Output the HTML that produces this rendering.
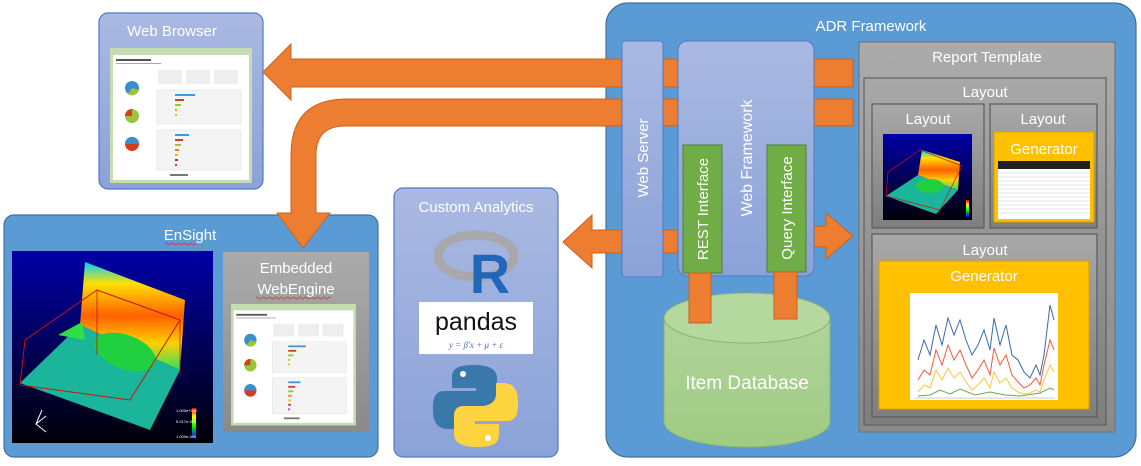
<!DOCTYPE html>
<html><head><meta charset="utf-8"><style>
html,body{margin:0;padding:0;background:#fff;}
svg{display:block;font-family:"Liberation Sans",sans-serif;}
</style></head><body>
<svg width="1141" height="466" viewBox="0 0 1141 466" xmlns="http://www.w3.org/2000/svg">
<defs>
<linearGradient id="lb" x1="0" y1="0" x2="0" y2="1"><stop offset="0" stop-color="#aab9e2"/><stop offset="1" stop-color="#8ba2d8"/></linearGradient>
<linearGradient id="gr" x1="0" y1="0" x2="0" y2="1"><stop offset="0" stop-color="#ababab"/><stop offset="1" stop-color="#8a8a8a"/></linearGradient>
<linearGradient id="gr2" x1="0" y1="0" x2="0" y2="1"><stop offset="0" stop-color="#a8a8a8"/><stop offset="1" stop-color="#7e7e7e"/></linearGradient>
<linearGradient id="ens" x1="0" y1="0" x2="0" y2="1"><stop offset="0" stop-color="#0000a8"/><stop offset="1" stop-color="#000008"/></linearGradient>
<linearGradient id="wall" x1="0" y1="0" x2="0" y2="1"><stop offset="0" stop-color="#00d0ff"/><stop offset=".2" stop-color="#ffe000"/><stop offset=".5" stop-color="#ff6000"/><stop offset=".75" stop-color="#ffd000"/><stop offset="1" stop-color="#30e060"/></linearGradient>
<linearGradient id="cb" x1="0" y1="0" x2="0" y2="1"><stop offset="0" stop-color="#ff0000"/><stop offset=".3" stop-color="#ffff00"/><stop offset=".6" stop-color="#00ff00"/><stop offset="1" stop-color="#0000ff"/></linearGradient>
<linearGradient id="db" x1="0" y1="0" x2="0" y2="1"><stop offset="0" stop-color="#b0d49a"/><stop offset="1" stop-color="#9fcb83"/></linearGradient>
<g id="shot">
<rect x="0" y="0" width="142" height="135" fill="#c5dbb0"/>
<rect x="3" y="7" width="136" height="125" fill="#fff"/>
<rect x="6" y="11" width="35" height="2" fill="#555"/>
<rect x="6" y="15" width="45" height="1" fill="#aaa"/>
<rect x="48" y="22" width="24" height="14" fill="#eee"/><rect x="76" y="22" width="24" height="14" fill="#eee"/><rect x="104" y="22" width="24" height="14" fill="#eee"/>
<circle cx="22" cy="40" r="7" fill="#3a8ed0"/><path d="M22 40 L29 42 A7 7 0 0 1 18 46Z" fill="#9ac43a"/>
<circle cx="22" cy="68" r="7" fill="#9ac43a"/><path d="M22 68 L22 61 A7 7 0 0 0 15 68Z" fill="#d04020"/>
<circle cx="22" cy="96" r="7" fill="#d04020"/><path d="M15 96 A7 7 0 0 1 29 96Z" fill="#3a8ed0"/>
<rect x="47" y="42" width="84" height="34" fill="#f4f4f4" stroke="#ddd" stroke-width=".5"/>
<rect x="65" y="46" width="20" height="2" fill="#3a9ad8"/><rect x="65" y="51" width="9" height="2" fill="#d04020"/><rect x="65" y="56" width="6" height="2" fill="#9ac43a"/><rect x="65" y="61" width="2" height="2" fill="#f0a000"/><rect x="65" y="66" width="2" height="2" fill="#f0c000"/>
<rect x="47" y="82" width="84" height="40" fill="#f4f4f4" stroke="#ddd" stroke-width=".5"/>
<rect x="65" y="86" width="14" height="2" fill="#3a9ad8"/><rect x="65" y="91" width="8" height="2" fill="#d04020"/><rect x="65" y="96" width="6" height="2" fill="#9ac43a"/><rect x="65" y="101" width="4" height="2" fill="#f08000"/><rect x="65" y="106" width="3" height="2" fill="#f0c000"/><rect x="65" y="111" width="3" height="2" fill="#c02070"/><rect x="65" y="116" width="2" height="2" fill="#9040c0"/>
<rect x="60" y="126" width="18" height="2" fill="#777"/>
</g>
</defs>

<!-- Web Browser -->
<rect x="99" y="13" width="164" height="176" rx="9" fill="url(#lb)" stroke="#4f78c8" stroke-width="1.2"/>
<text x="172" y="36" font-size="15" fill="#fff" text-anchor="middle">Web Browser</text>
<use href="#shot" transform="translate(110,48)"/>

<!-- EnSight -->
<rect x="4" y="215" width="374" height="242" rx="10" fill="#5b9bd5" stroke="#41719c" stroke-width="1.2"/>
<text x="190" y="240" font-size="15" fill="#fff" text-anchor="middle">EnSight</text>
<path d="M165 244 q1.5 -2 3 0 t3 0 t3 0 t3 0 t3 0 t3 0 t3 0 t3 0 t3 0 t3 0" stroke="#e03030" stroke-width=".8" fill="none"/>
<rect x="12" y="251" width="201" height="192" fill="url(#ens)"/>
<polygon points="20,383 150,430 180,370 80,325" fill="#1ab59a"/>
<polygon points="80,325 180,370 185,300 85,262" fill="url(#wall)"/>
<ellipse cx="125" cy="352" rx="32" ry="17" fill="#20d040" transform="rotate(20 125 352)"/>
<polygon points="58,335 82,322 85,340" fill="#30e040"/>
<polygon points="25,340 97,290 180,320 130,400 20,385" fill="none" stroke="#d01010" stroke-width="1"/>
<line x1="97" y1="290" x2="97" y2="355" stroke="#d01010" stroke-width=".8"/>
<line x1="180" y1="320" x2="180" y2="375" stroke="#d01010" stroke-width=".8"/>
<rect x="192" y="408" width="4" height="30" fill="url(#cb)"/>
<text x="176" y="412" font-size="4" fill="#fff">1.000e+000</text><text x="176" y="423" font-size="4" fill="#fff">5.017e-001</text><text x="176" y="438" font-size="4" fill="#fff">1.000e-005</text>
<path d="M42 410 L36 424 L46 432 M36 424 L46 416" stroke="#fff" stroke-width="1" fill="none"/>
<rect x="223" y="252" width="146" height="180" fill="url(#gr)"/>
<text x="296" y="273" font-size="15" fill="#fff" text-anchor="middle">Embedded</text>
<text x="296" y="294" font-size="15" fill="#fff" text-anchor="middle">WebEngine</text>
<path d="M256 298 q1.5 -2 3 0 t3 0 t3 0 t3 0 t3 0 t3 0 t3 0 t3 0 t3 0 t3 0 t3 0 t3 0 t3 0 t3 0 t3 0 t3 0 t3 0 t3 0 t3 0 t3 0 t3 0 t3 0 t3 0 t3 0 t3 0" stroke="#e03030" stroke-width=".8" fill="none"/>
<use href="#shot" transform="translate(231,304) scale(0.88,0.9)"/>

<!-- Custom Analytics -->
<rect x="394" y="188" width="164" height="269" rx="9" fill="url(#lb)" stroke="#4f78c8" stroke-width="1.2"/>
<text x="476" y="212" font-size="15" fill="#fff" text-anchor="middle">Custom Analytics</text>
<ellipse cx="476" cy="256" rx="38" ry="21" fill="none" stroke="#a8a8ac" stroke-width="9"/>
<text x="490" y="293" font-size="56" font-weight="bold" fill="#2166b8" text-anchor="middle">R</text>
<rect x="419" y="302" width="114" height="52" fill="#fff"/>
<text x="476" y="330" font-size="25" fill="#111" text-anchor="middle">pandas</text>
<text x="476" y="348" font-size="9" font-style="italic" fill="#5070b0" text-anchor="middle" font-family="Liberation Serif,serif">y = β′x + μ + ε</text>
<path d="M474 365 C452 365 452 372 452 380 L452 388 L476 388 L476 391 L444 391 C432 391 433 405 433 410 C433 425 440 429 448 429 L455 429 L455 418 C455 410 462 406 470 406 L488 406 C494 406 497 402 497 396 L497 378 C497 370 490 365 474 365Z" fill="#3a77aa"/>
<circle cx="463" cy="374" r="3" fill="#fff"/>
<path d="M477 447 C499 447 499 440 499 432 L499 424 L475 424 L475 421 L507 421 C519 421 518 407 518 402 C518 387 511 383 503 383 L496 383 L496 394 C496 402 489 406 481 406 L463 406 C457 406 454 410 454 416 L454 434 C454 442 461 447 477 447Z" fill="#fdd340"/>
<circle cx="488" cy="438" r="3" fill="#fff"/>

<!-- ADR Framework -->
<rect x="606" y="3" width="530" height="454" rx="22" fill="#5b9bd5" stroke="#41719c" stroke-width="1.2"/>
<text x="871" y="31" font-size="15" fill="#fff" text-anchor="middle">ADR Framework</text>

<!-- Orange arrows -->
<g fill="#ed7d31" stroke="#c8631f" stroke-width="1">
<polygon points="853,59 291,59 291,44 263,72 291,100 291,87 853,87"/>
<path d="M853 99 L347 99 Q291 99 291 155 L291 213 L277 213 L303 248 L330 213 L316 213 L316 155 Q316 126 345 126 L853 126 Z"/>
<polygon points="700,230 592,230 592,215 563,242 592,268 592,253 700,253"/>
<polygon points="800,226 826,226 826,213 853,236 826,259 826,247 800,247"/>
</g>

<!-- Web Server -->
<rect x="622" y="41" width="41" height="236" rx="3" fill="url(#lb)" stroke="#4f78c8" stroke-width="1"/>
<text transform="translate(648,158) rotate(-90)" font-size="15" fill="#fff" text-anchor="middle">Web Server</text>
<!-- Web Framework -->
<rect x="678" y="41" width="136" height="235" rx="9" fill="url(#lb)" stroke="#4f78c8" stroke-width="1"/>
<text transform="translate(752,158) rotate(-90)" font-size="16" fill="#fff" text-anchor="middle">Web Framework</text>
<rect x="683" y="145" width="39" height="128" fill="#70ad47" stroke="#507e32" stroke-width="1"/>
<text transform="translate(708,209) rotate(-90)" font-size="15" fill="#fff" text-anchor="middle">REST Interface</text>
<rect x="767" y="145" width="39" height="127" fill="#70ad47" stroke="#507e32" stroke-width="1"/>
<text transform="translate(792,208) rotate(-90)" font-size="15" fill="#fff" text-anchor="middle">Query Interface</text>

<!-- Database -->
<path d="M664 318 L664 422 A83 25 0 0 0 830 422 L830 318" fill="url(#db)" stroke="#8ab26c" stroke-width="1"/>
<ellipse cx="747" cy="318" rx="83" ry="25" fill="#b5d89e" stroke="#8ab26c" stroke-width="1"/>
<text x="747" y="389" font-size="19" fill="#fff" text-anchor="middle">Item Database</text>
<rect x="689" y="273" width="22" height="50" fill="#ed7d31" stroke="#c8631f" stroke-width="1"/>
<rect x="774" y="272" width="23" height="47" fill="#ed7d31" stroke="#c8631f" stroke-width="1"/>

<!-- Report Template -->
<rect x="859" y="42" width="256" height="390" fill="url(#gr)" stroke="#767676" stroke-width="1.2"/>
<text x="987" y="62" font-size="15" fill="#fff" text-anchor="middle">Report Template</text>
<rect x="864" y="78" width="242" height="347" fill="url(#gr2)" stroke="#606060" stroke-width="1.2"/>
<text x="985" y="97" font-size="15" fill="#fff" text-anchor="middle">Layout</text>
<rect x="872" y="104" width="112" height="124" fill="url(#gr2)" stroke="#5a5a5a" stroke-width="1.2"/>
<text x="928" y="124" font-size="15" fill="#fff" text-anchor="middle">Layout</text>
<rect x="883" y="134" width="89" height="86" fill="url(#ens)"/>
<polygon points="886,196 936,214 958,190 918,175" fill="#1ab59a"/>
<polygon points="918,175 958,190 960,162 922,150" fill="url(#wall)"/>
<ellipse cx="930" cy="186" rx="14" ry="7" fill="#20d040"/>
<polygon points="888,172 920,150 962,166 940,210 886,196" fill="none" stroke="#d01010" stroke-width=".7"/>
<rect x="966" y="200" width="3" height="17" fill="url(#cb)"/>
<rect x="990" y="104" width="107" height="124" fill="url(#gr2)" stroke="#5a5a5a" stroke-width="1.2"/>
<text x="1043" y="124" font-size="15" fill="#fff" text-anchor="middle">Layout</text>
<rect x="994" y="132" width="100" height="90" fill="#ffc000" stroke="#d9a300" stroke-width="1"/>
<text x="1044" y="154" font-size="15" fill="#fff" text-anchor="middle">Generator</text>
<rect x="998" y="161" width="92" height="58" fill="#fff"/>
<rect x="998" y="161" width="92" height="8" fill="#222"/>
<g stroke="#ccc" stroke-width=".5">
<line x1="998" y1="173" x2="1090" y2="173"/><line x1="998" y1="177" x2="1090" y2="177"/><line x1="998" y1="181" x2="1090" y2="181"/><line x1="998" y1="185" x2="1090" y2="185"/><line x1="998" y1="189" x2="1090" y2="189"/><line x1="998" y1="193" x2="1090" y2="193"/><line x1="998" y1="197" x2="1090" y2="197"/><line x1="998" y1="201" x2="1090" y2="201"/><line x1="998" y1="205" x2="1090" y2="205"/><line x1="998" y1="209" x2="1090" y2="209"/><line x1="998" y1="213" x2="1090" y2="213"/>
</g>
<rect x="872" y="234" width="225" height="183" fill="url(#gr2)" stroke="#5a5a5a" stroke-width="1.2"/>
<text x="985" y="255" font-size="15" fill="#fff" text-anchor="middle">Layout</text>
<rect x="879" y="261" width="210" height="148" fill="#ffc000" stroke="#d9a300" stroke-width="1"/>
<text x="984" y="281" font-size="15" fill="#fff" text-anchor="middle">Generator</text>
<rect x="910" y="293" width="148" height="107" fill="#fff"/>
<g fill="none" stroke-width="1">
<polyline stroke="#3a6aa8" points="918,360 924,340 930,355 936,325 942,345 948,318 954,335 960,320 966,340 972,355 978,345 984,330 990,350 994,318 1000,345 1006,325 1012,355 1018,360 1024,372 1030,378 1036,365 1040,375 1044,355 1050,305 1054,320"/>
<polyline stroke="#f05a3a" points="918,380 924,370 930,375 936,350 942,365 948,345 954,360 960,350 966,365 972,378 978,370 984,360 990,375 994,348 1000,365 1006,355 1012,375 1018,382 1024,388 1030,385 1036,378 1040,385 1044,365 1050,340 1054,350"/>
<polyline stroke="#f7c93a" points="918,392 924,385 930,388 936,370 942,380 948,368 954,378 960,372 966,382 972,390 978,385 984,378 990,388 994,372 1000,383 1006,378 1012,388 1018,392 1024,394 1030,393 1036,390 1040,392 1044,380 1050,365 1054,372"/>
<polyline stroke="#6aa84f" points="918,396 930,395 940,390 950,394 960,389 975,395 990,392 1005,395 1020,396 1040,393 1050,388 1054,390"/>
</g>
<line x1="915" y1="398" x2="1055" y2="398" stroke="#999" stroke-width=".5"/>
</svg>
</body></html>
